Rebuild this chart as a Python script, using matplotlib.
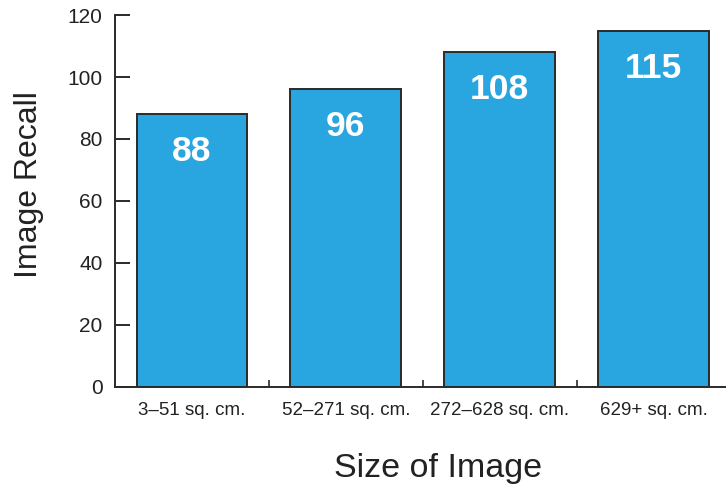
import matplotlib
matplotlib.use("Agg")
import matplotlib.pyplot as plt

# Image recall by printed image size
categories = ["3\u201351 sq. cm.", "52\u2013271 sq. cm.", "272\u2013628 sq. cm.", "629+ sq. cm."]
recall = [88, 96, 108, 115]
y_ticks = [0, 20, 40, 60, 80, 100, 120]

plt.rcParams["font.family"] = ["Liberation Sans", "DejaVu Sans"]

fig = plt.figure(figsize=(7.26, 4.87), dpi=100)
ax = fig.add_axes([115 / 726, 100 / 487, 1 - 115 / 726, 372 / 487])

bar_color = "#29a6df"
edge_color = "#2a2a2a"
text_color = "#222222"

x = list(range(len(categories)))
bars = ax.bar(x, recall, width=0.72, color=bar_color, edgecolor=edge_color, linewidth=1.4)

for xi, v in zip(x, recall):
    ax.annotate(str(v), xy=(xi, v), xytext=(0, -27), textcoords="offset points",
                ha="center", va="center", color="white", fontsize=25.5, fontweight="bold")

ax.set_xlim(-0.5, 3.47)
ax.set_ylim(0, 120)
ax.set_yticks(y_ticks)

# Category labels under bar centres, short ticks between categories
ax.set_xticks(x)
ax.set_xticklabels(categories)
ax.set_xticks([0.5, 1.5, 2.5], minor=True)
ax.tick_params(axis="x", which="major", length=0, pad=11, labelsize=13.5, labelcolor=text_color)
ax.tick_params(axis="x", which="minor", direction="in", length=5, width=1.2, color=edge_color)
ax.tick_params(axis="y", direction="in", length=11, width=1.4, color=edge_color,
               pad=9, labelsize=15, labelcolor=text_color)

for side in ("top", "right"):
    ax.spines[side].set_visible(False)
for side in ("left", "bottom"):
    ax.spines[side].set_color(edge_color)
    ax.spines[side].set_linewidth(1.4)

ax.set_ylabel("Image Recall", fontsize=23, color=text_color)
ax.yaxis.label.set_verticalalignment("baseline")
ax.yaxis.set_label_coords(-0.128, 0.544)

ax.set_xlabel("Size of Image", fontsize=24.5, color=text_color)
ax.xaxis.label.set_verticalalignment("baseline")
ax.xaxis.set_label_coords(0.528, -0.242)

fig.savefig("out.png", dpi=100)
